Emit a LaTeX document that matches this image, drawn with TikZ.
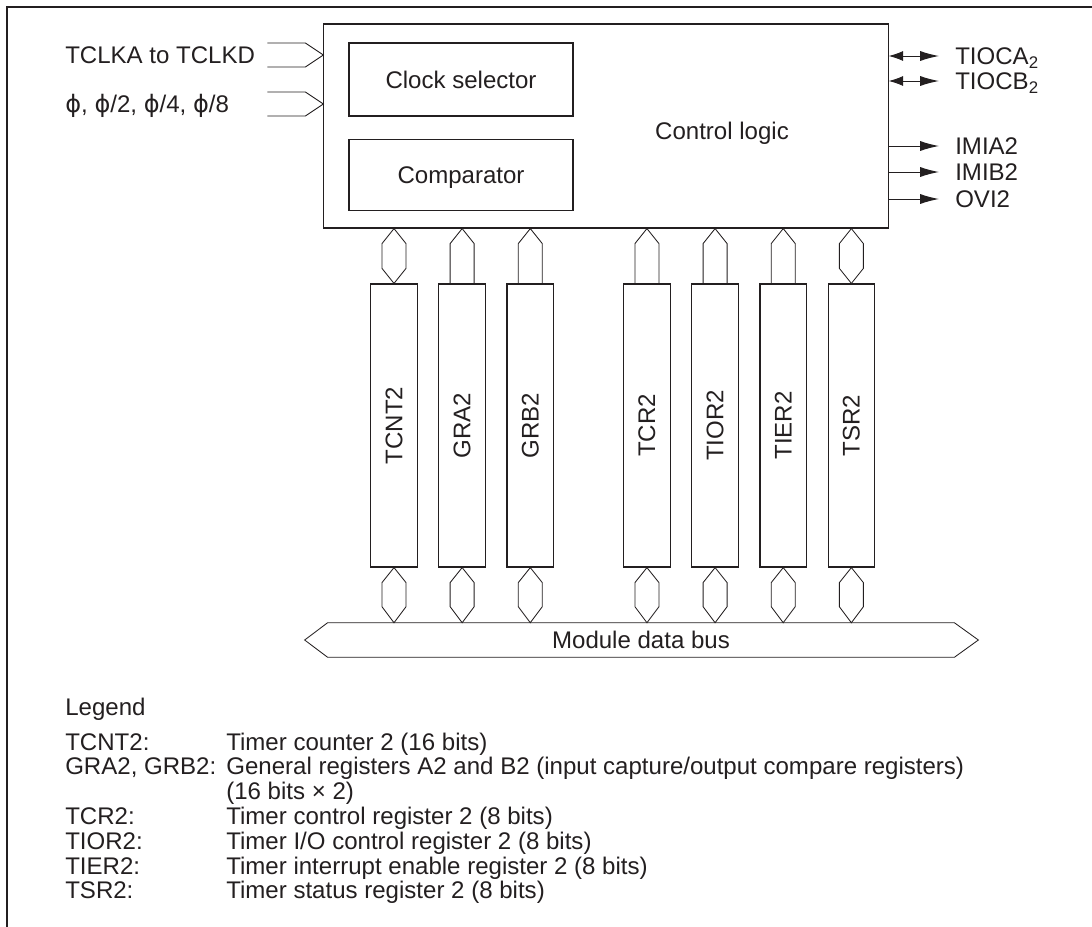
\documentclass[tikz,border=0pt]{standalone}
\usepackage{fontspec}
\setmainfont{Liberation Sans}
\newfontfamily\phifont{DejaVu Sans}
\usetikzlibrary{positioning, arrows.meta, calc}
\definecolor{ink}{HTML}{231F20}
\newcommand\figfont{\fontsize{17.1}{17.4}\selectfont}
\newcommand\phisym{{\phifont ϕ}}
\tikzset{
  blk/.style={draw=ink, line width=0.8pt, text=ink, font=\figfont, inner sep=0pt,
    text height=12.2pt, text depth=0pt},
  reg/.style={draw=ink, line width=0.8pt, text=ink, font=\figfont, inner sep=0pt,
    minimum width=1.1625cm, minimum height=7.075cm},
  bus/.style={text=ink, font=\figfont, inner sep=0pt, text height=12.2pt, text depth=0pt,
    minimum width=15.65cm, minimum height=0.85cm},
  lbl/.style={anchor=west, inner sep=0pt, text=ink, font=\figfont,
    text height=12.2pt, text depth=0pt},
  legtxt/.style={anchor=base west, inner sep=0pt, text=ink, font=\figfont},
  link/.style={draw=ink, line width=0.6pt, line join=miter},
  sig/.style={ink, line width=0.7pt, -{Latex[length=4.7mm, width=2.5mm]}},
  sigb/.style={ink, line width=0.7pt, {Latex[length=3.6mm, width=2.5mm]}-{Latex[length=4.7mm, width=2.5mm]}},
  frm/.style={draw=ink, line width=1.5pt},
}

\begin{document}
\begin{tikzpicture}[x=0.025cm, y=-0.025cm]
  \useasboundingbox (0,0) rectangle (1092,927);
  \draw[frm] (7,927) -- (7,7) -- (1092,7);
  % control block
  \node[blk, minimum width=14.1cm, minimum height=5.1cm] (ctl) at (606,126) {};
  \node[blk, minimum width=5.6cm, minimum height=1.825cm] (clk) at (461,79.5) {Clock selector};
  \node[blk, below=0.55cm of clk, minimum width=5.6cm, minimum height=1.775cm] (cmp) {Comparator};
  \node[lbl, anchor=center] (ctltxt) at (722,131) {Control logic};
  % clock inputs
  \node[lbl] (tclk) at (65,55) {TCLKA to TCLKD};
  \node[lbl] (phi) at (65,104) {\phisym, \phisym/2, \phisym/4, \phisym/8};
  \coordinate (tipA) at (ctl.west |- tclk.west);
  \coordinate (tipB) at (ctl.west |- phi.west);
  \draw[link] ($(tipA)+(-56,-12)$) -- ++(38,0) -- (tipA) -- ++(-18,12) -- ++(-38,0);
  \draw[link] ($(tipB)+(-56,-12)$) -- ++(38,0) -- (tipB) -- ++(-18,12) -- ++(-38,0);
  % pins and interrupts
  \node[lbl] (tioca) at (955,56) {TIOCA\textsubscript{2}};
  \node[lbl] (tiocb) at (955,81) {TIOCB\textsubscript{2}};
  \node[lbl] (imia) at (955,146) {IMIA2};
  \node[lbl] (imib) at (955,172) {IMIB2};
  \node[lbl] (ovi) at (955,199) {OVI2};
  \draw[sigb] (tioca.west -| ctl.east) -- ([xshift=-0.4cm]tioca.west);
  \draw[sigb] (tiocb.west -| ctl.east) -- ([xshift=-0.4cm]tiocb.west);
  \draw[sig] (imia.west -| ctl.east) -- ([xshift=-0.4cm]imia.west);
  \draw[sig] (imib.west -| ctl.east) -- ([xshift=-0.4cm]imib.west);
  \draw[sig] (ovi.west -| ctl.east) -- ([xshift=-0.4cm]ovi.west);
  % registers
  \node[reg] (tcnt) at (394,425.5) {\rotatebox{90}{TCNT2}};
  \node[reg, right=0.5125cm of tcnt] (gra) {\rotatebox{90}{GRA2}};
  \node[reg, right=0.5125cm of gra] (grb) {\rotatebox{90}{GRB2}};
  \node[reg, right=1.725cm of grb] (tcr) {\rotatebox{90}{TCR2}};
  \node[reg, right=0.5125cm of tcr] (tior) {\rotatebox{90}{TIOR2}};
  \node[reg, right=0.5125cm of tior] (tier) {\rotatebox{90}{TIER2}};
  \node[reg, right=0.5125cm of tier] (tsr) {\rotatebox{90}{TSR2}};
  % module data bus
  \node[bus] (bus) at (641,640) {Module data bus};
  \draw[link] (bus.north west) -- (bus.north east) -- ($(bus.east)+(24,0)$) -- (bus.south east)
    -- (bus.south west) -- ($(bus.west)+(-23,0)$) -- cycle;
  % register <-> control logic
  \foreach \r in {tcnt,tsr}
    \draw[link] (\r.north |- ctl.south) -- ++(12,15) -- ($(\r.north)+(12,-15)$) -- (\r.north)
      -- ($(\r.north)+(-12,-15)$) -- ($(\r.north |- ctl.south)+(-12,15)$) -- cycle;
  \foreach \r in {gra,grb,tcr,tior,tier}
    \draw[link] ($(\r.north)+(-12,0)$) -- ($(\r.north |- ctl.south)+(-12,15)$) -- (\r.north |- ctl.south)
      -- ($(\r.north |- ctl.south)+(12,15)$) -- ($(\r.north)+(12,0)$);
  % register <-> bus
  \foreach \r in {tcnt,gra,grb,tcr,tior,tier,tsr}
    \draw[link] (\r.south) -- ++(12,15) -- ($(\r.south |- bus.north)+(12,-16)$) -- (\r.south |- bus.north)
      -- ($(\r.south |- bus.north)+(-12,-16)$) -- ($(\r.south)+(-12,15)$) -- cycle;
  % legend
  \node[legtxt] (leg) at (65,715) {\begin{tabular}[t]{@{}p{4.025cm}@{}l@{}}
    Legend\\[7.4pt]
    TCNT2: & Timer counter 2 (16 bits)\\
    GRA2, GRB2: & General registers A2 and B2 (input capture/output compare registers)\\
    & (16 bits × 2)\\
    TCR2: & Timer control register 2 (8 bits)\\
    TIOR2: & Timer I/O control register 2 (8 bits)\\
    TIER2: & Timer interrupt enable register 2 (8 bits)\\
    TSR2: & Timer status register 2 (8 bits)
  \end{tabular}};
\end{tikzpicture}
\end{document}
